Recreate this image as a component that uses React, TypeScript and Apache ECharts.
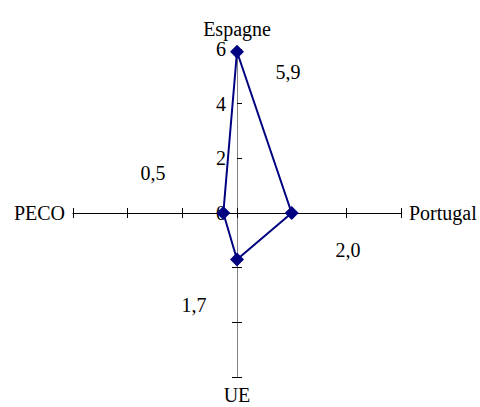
import React, { useEffect, useRef } from 'react';
import * as echarts from 'echarts';

const indicatorNames = ['Espagne', 'PECO', 'UE', 'Portugal'];
const seriesValues = [5.9, 0.5, 1.7, 2.0];
const valueLabels = ['5,9', '0,5', '1,7', '2,0'];
const axisMin = 0;
const axisMax = 6;
const axisSplits = 3;

const FONT = 'Liberation Serif';
const NAVY = '#000080';

export default function App() {
  const ref = useRef<HTMLDivElement>(null);
  useEffect(() => {
    if (!ref.current) return;
    const chart = echarts.init(ref.current, undefined, { renderer: 'svg' });
    const cx = 237;
    const cy = 213;
    const r = 164;
    const axisColors = ['#808080', '#000000', '#808080', '#000000'];
    // value label positions relative to the radar center (Excel default placements)
    const labelOffsets = [
      [51, -141],
      [-84, -40],
      [-43, 92],
      [111, 37],
    ];
    const baseRadar = {
      center: [cx, cy],
      radius: r,
      startAngle: 90,
      shape: 'polygon',
      splitNumber: axisSplits,
      splitLine: { show: false },
      splitArea: { show: false },
    };
    chart.setOption({
      animation: false,
      textStyle: { fontFamily: FONT },
      radar: [
        {
          ...baseRadar,
          nameGap: 8,
          axisName: { color: '#000', fontFamily: FONT, fontSize: 20 },
          axisLine: { show: true, lineStyle: { color: '#000', width: 1 } },
          axisTick: { show: true, length: 5, lineStyle: { color: '#000', width: 1 } },
          axisLabel: { show: false },
          indicator: indicatorNames.map((name, i) => ({
            name,
            min: axisMin,
            max: axisMax,
            axisLine: { lineStyle: { color: axisColors[i] } },
            ...(i === 0
              ? {
                  axisLabel: {
                    show: true,
                    color: '#000',
                    fontFamily: FONT,
                    fontSize: 20,
                    margin: 11,
                  },
                  axisTick: { length: -5 },
                }
              : {}),
          })),
        },
        {
          ...baseRadar,
          axisName: { show: false },
          axisLine: { show: false },
          axisTick: { show: true, length: -5, lineStyle: { color: '#000', width: 1 } },
          axisLabel: { show: false },
          indicator: indicatorNames.map((name, i) => ({
            name,
            min: axisMin,
            max: axisMax,
            ...(i === 0 ? { axisTick: { show: false } } : {}),
          })),
        },
      ],
      series: [
        {
          type: 'radar',
          radarIndex: 0,
          symbol: 'diamond',
          symbolSize: 14,
          lineStyle: { color: NAVY, width: 2 },
          itemStyle: { color: NAVY },
          data: [{ value: seriesValues, name: 'values' }],
        },
      ],
      graphic: valueLabels.map((t, i) => ({
        type: 'text',
        x: cx + labelOffsets[i][0],
        y: cy + labelOffsets[i][1],
        style: {
          text: t,
          fill: '#000',
          fontFamily: FONT,
          fontSize: 20,
          textAlign: 'center',
          textVerticalAlign: 'middle',
        },
      })),
    });
    return () => chart.dispose();
  }, []);
  return (
    <div
      ref={ref}
      style={{ position: 'absolute', left: 0, top: 0, width: 480, height: 407, background: '#fff' }}
    />
  );
}
